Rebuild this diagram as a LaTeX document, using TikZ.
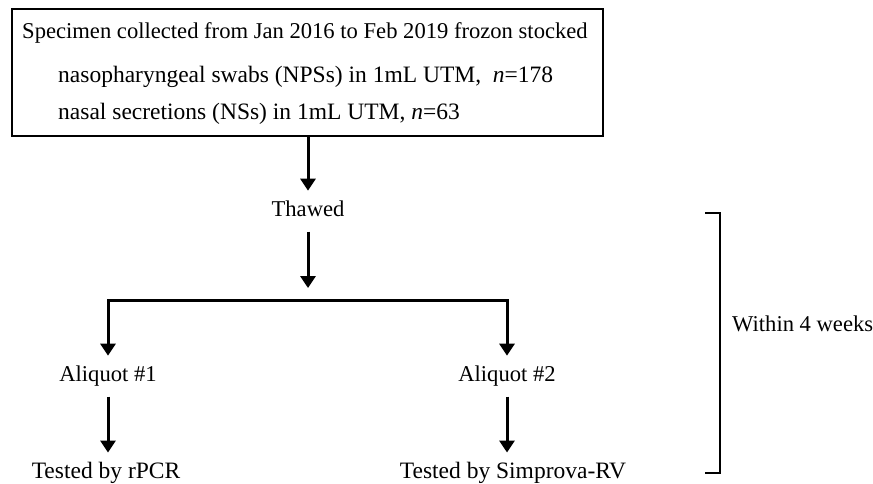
\documentclass[tikz,border=0pt]{standalone}
\usepackage{fontspec}
\setmainfont{Liberation Serif}
\usetikzlibrary{arrows.meta,calc}
\begin{document}
\begin{tikzpicture}[x=1pt,y=-1pt,
  every node/.style={font=\fontsize{22.6}{27}\selectfont},
  big/.style={font=\fontsize{23.5}{28}\selectfont},
  txt/.style={inner sep=0pt,text height=16pt,text depth=5pt,outer sep=10pt},
  boxtxt/.style={inner sep=0pt,anchor=base west},
  arr/.style={line width=3pt,-{Triangle[length=12pt,width=15pt]}},
  brk/.style={line width=1.8pt}]
\useasboundingbox (0,0) rectangle (873,483);
% top box
\node[draw,line width=2pt,minimum width=591pt,minimum height=127pt,inner sep=0pt] (box) at (307.5,72.5) {};
\node[boxtxt] (l1) at (22,38) {Specimen collected from Jan 2016 to Feb 2019 frozon stocked};
\node[boxtxt,big] (l2) at (58,82) {nasopharyngeal swabs (NPSs) in 1mL UTM,\ \ \textit{n}=178};
\node[boxtxt,big] (l3) at (58,119) {nasal secretions (NSs) in 1mL UTM, \textit{n}=63};
% flow nodes
\node[txt,anchor=base] (thawed) at (308,216.7) {Thawed};
\node[txt,anchor=base] (a1) at (108,381.7) {Aliquot \#1};
\node[txt,anchor=base] (a2) at (507,381.7) {Aliquot \#2};
\node[txt,big,anchor=base] (t1) at (106,478.5) {Tested by rPCR};
\node[txt,big,anchor=base] (t2) at (513,478.5) {Tested by Simprova-RV};
\coordinate (mid) at (308,300);
% connectors
\draw[arr] (box.south -| thawed) -- (thawed.north);
\draw[arr,shorten >=12pt] (thawed.south) -- (mid);
\draw[arr] (mid) -| (a1.north);
\draw[arr] (mid) -| (a2.north);
\draw[arr] (a1.south) -- (a1.south |- t1.north);
\draw[arr] (a2.south) -- (a2.south |- t2.north);
% bracket
\coordinate (bt) at (705,213);
\coordinate (bb) at (705,473);
\node[inner sep=0pt,anchor=base west] (within) at (732,331.7) {Within 4 weeks};
\draw[brk] (bt) -- ++(15,0) -- ($(bb)+(15,0)$) -- (bb);
\end{tikzpicture}
\end{document}
